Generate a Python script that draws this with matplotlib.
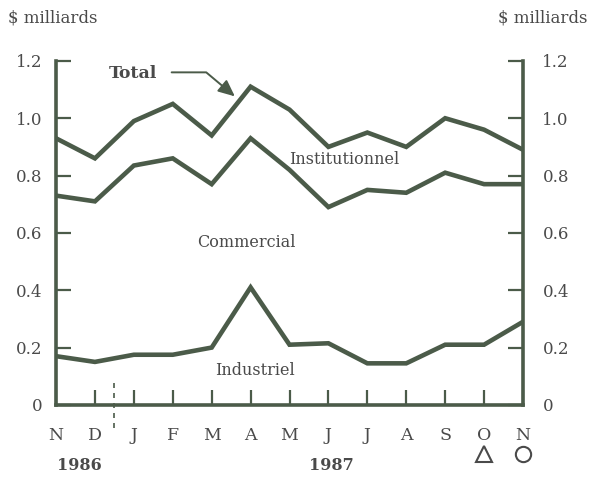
import numpy as np
import matplotlib.pyplot as plt

# Mois de novembre 1986 à novembre 1987
mois = ["N", "D", "J", "F", "M", "A", "M", "J", "J", "A", "S", "O", "N"]
total = [0.93, 0.86, 0.99, 1.05, 0.94, 1.11, 1.03, 0.90, 0.95, 0.90, 1.00, 0.96, 0.89]
instit_bas = [0.73, 0.71, 0.835, 0.86, 0.77, 0.93, 0.82, 0.69, 0.75, 0.74, 0.81, 0.77, 0.77]
industriel = [0.17, 0.15, 0.175, 0.175, 0.20, 0.41, 0.21, 0.215, 0.145, 0.145, 0.21, 0.21, 0.29]
yticks = [0, 0.2, 0.4, 0.6, 0.8, 1.0, 1.2]
ylabels = ["0", "0.2", "0.4", "0.6", "0.8", "1.0", "1.2"]

ligne = "#4b5b49"
gris = "#4a4a4a"
plt.rcParams['font.family'] = ['DejaVu Serif']

fig = plt.figure(figsize=(5.96, 4.95), dpi=100)
ax = fig.add_axes([0.094, 0.182, 0.7835, 0.695])
x = np.arange(len(mois))

for serie in (total, instit_bas, industriel):
    ax.plot(x, serie, color=ligne, lw=3.3, solid_joinstyle='miter')

ax.set_xlim(0, 12)
ax.set_ylim(0, 1.2)
ax.spines['top'].set_visible(False)
for s in ['left', 'right', 'bottom']:
    ax.spines[s].set_color(ligne)
    ax.spines[s].set_linewidth(2.6)

ax.set_xticks(x)
ax.set_xticklabels(mois, fontsize=12.5, color=gris)
ax.set_yticks(yticks)
ax.set_yticklabels(ylabels, fontsize=12, color=gris)
ax.tick_params(axis='x', direction='in', length=11, width=1.6, color=ligne, pad=16)
ax.tick_params(axis='y', direction='in', length=11, width=1.6, color=ligne,
               left=True, right=True, labelleft=True, labelright=True, pad=10)
# étiquettes de droite un peu plus écartées
for t in ax.yaxis.get_major_ticks():
    t.label2.set_transform(t.label2.get_transform() +
                           plt.matplotlib.transforms.ScaledTranslation(4 / 72, 0, fig.dpi_scale_trans))

# séparateur entre 1986 et 1987
ax.plot([1.5, 1.5], [-0.08, 0.08], color=ligne, lw=1.2, ls=(0, (3, 3)), clip_on=False)

# étiquettes des séries
ax.text(1.35, 1.155, "Total", fontsize=12.5, fontweight='bold', color=gris, ha='left', va='center')
ax.annotate("", xy=(4.65, 1.07), xytext=(2.9, 1.16),
            arrowprops=dict(arrowstyle="-|>,head_length=1.0,head_width=0.45", color=ligne, lw=1.4,
                            connectionstyle="angle,angleA=0,angleB=-40,rad=0"))
ax.text(6.0, 0.855, "Institutionnel", fontsize=11.5, color=gris, ha='left', va='center')
ax.text(4.9, 0.565, "Commercial", fontsize=11.5, color=gris, ha='center', va='center')
ax.text(4.1, 0.12, "Industriel", fontsize=11.5, color=gris, ha='left', va='center')

# unités et années
fig.text(8 / 596, 1 - 18 / 495, "$ milliards", fontsize=12, color=gris, ha='left', va='center')
fig.text(588 / 596, 1 - 18 / 495, "$ milliards", fontsize=12, color=gris, ha='right', va='center')
fig.text(57 / 596, 1 - 466 / 495, "1986", fontsize=11.5, fontweight='bold', color=gris, ha='left', va='center')
fig.text(309 / 596, 1 - 466 / 495, "1987", fontsize=11.5, fontweight='bold', color=gris, ha='left', va='center')

# symboles sous octobre et novembre
ax.plot([11], [-0.17], marker='^', ms=11, mfc='white', mec=gris, mew=1.5, clip_on=False)
ax.plot([12], [-0.17], marker='o', ms=11, mfc='white', mec=gris, mew=1.5, clip_on=False)

fig.savefig("out.png", dpi=100)
